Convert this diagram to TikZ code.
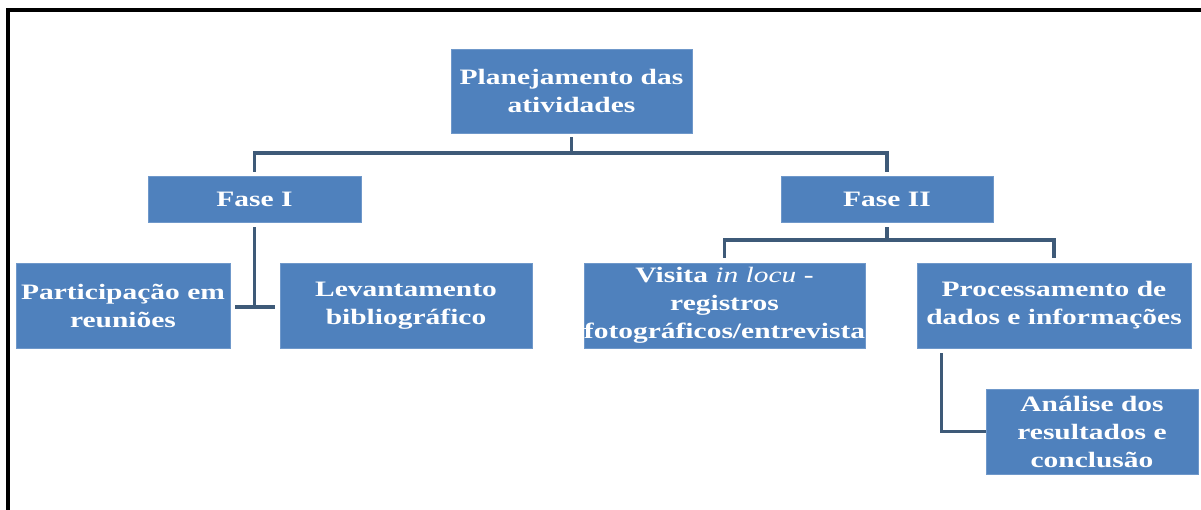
\documentclass[tikz,border=0pt]{standalone}
\usepackage{fontspec}
\setmainfont{Liberation Serif}[FakeStretch=1.34]
\definecolor{boxblue}{HTML}{4F81BD}
\definecolor{boxedge}{HTML}{6F98CA}
\definecolor{connc}{HTML}{3E5A78}
\begin{document}
\begin{tikzpicture}[x=1pt,y=-1pt,
  box/.style={rectangle, fill=boxblue, draw=boxedge, line width=0.8pt, text=white,
    font=\fontsize{22}{28}\selectfont\bfseries, align=center, inner sep=0pt},
  conn/.style={draw=connc, line width=3.5pt},
  frame/.style={draw=black, line width=4pt}]
\useasboundingbox (0,0) rectangle (1201,509);
\fill[white] (0,0) rectangle (1201,509);
\draw[frame] (1210,10) -- (8,10) -- (8,520);

\node[box, minimum width=241pt, minimum height=84pt] (plan) at (571.5,91) {Planejamento das\\atividades};
\node[box, minimum width=213pt, minimum height=46pt] (f1) at (254.5,199) {Fase I};
\node[box, minimum width=212pt, minimum height=46pt] (f2) at (887,199) {Fase II};
\node[box, minimum width=214pt, minimum height=85pt] (part) at (123,305.5) {Participação em\\reuniões};
\node[box, minimum width=252pt, minimum height=85pt] (lev) at (406,305.5) {Levantamento\\bibliográfico};
\node[box, minimum width=281pt, minimum height=85pt] (vis) at (724.5,305.5) {Visita {\mdseries\itshape in locu} -\\registros\\\makebox[0pt]{fotográficos/entrevista}};
\node[box, minimum width=274pt, minimum height=85pt] (proc) at (1054,305.5) {Processamento de\\dados e informações};
\node[box, minimum width=212pt, minimum height=85pt] (ana) at (1092,431.5) {Análise dos\\resultados e\\conclusão};

\coordinate (j1) at (571.5,153);
\coordinate (j2) at (254.5,307);
\coordinate (j3) at (887,240);
\coordinate (t1l) at (235,307);
\coordinate (t1r) at (275,307);

\draw[conn] ([yshift=-4pt]plan.south) -- (j1);
\draw[conn] ([yshift=4pt]f1.north) |- (j1) -| ([yshift=4pt]f2.north);
\draw[conn] ([yshift=-5pt]f1.south) -- (j2);
\draw[conn] (t1l) -- (t1r);
\draw[conn] ([yshift=-5pt]f2.south) -- (j3);
\draw[conn] ([yshift=5pt]vis.north) |- (j3) -| ([yshift=5pt]proc.north);
\draw[conn] ([xshift=25pt,yshift=-5pt]proc.south west) |- (ana.west);
\end{tikzpicture}
\end{document}
